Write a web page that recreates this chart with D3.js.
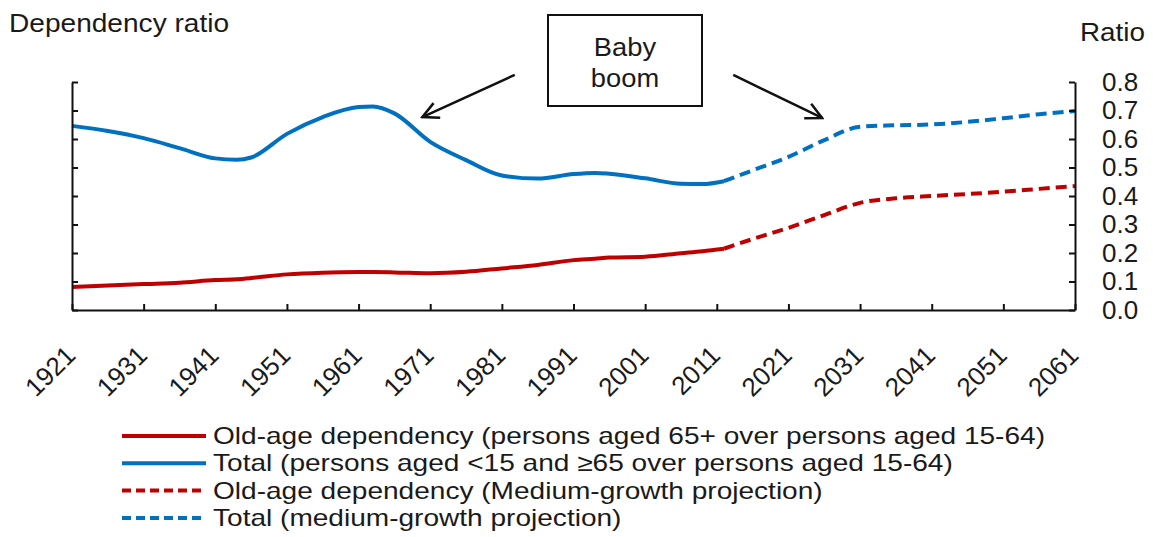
<!DOCTYPE html>
<html>
<head>
<meta charset="utf-8">
<script src="https://cdn.jsdelivr.net/npm/d3@7"></script>
<style>
  body { margin: 0; background: #fff; }
  text { font-family: "Liberation Sans", Arial, sans-serif; fill: #1a1a1a; }
</style>
</head>
<body>
<div id="root"></div>
<script>
// historical estimates
const histYears = [1921, 1926, 1931, 1936, 1941, 1944, 1946, 1951, 1956, 1961, 1963, 1966, 1971, 1976, 1981, 1986, 1991, 1994, 1996, 2001, 2006, 2009, 2012];
const histTotal = [0.646, 0.628, 0.603, 0.568, 0.532, 0.527, 0.535, 0.618, 0.677, 0.712, 0.714, 0.690, 0.590, 0.526, 0.472, 0.461, 0.477, 0.481, 0.478, 0.462, 0.443, 0.442, 0.452];
const histOld = [0.081, 0.086, 0.091, 0.096, 0.105, 0.108, 0.112, 0.125, 0.131, 0.133, 0.133, 0.132, 0.129, 0.134, 0.146, 0.158, 0.175, 0.180, 0.184, 0.187, 0.199, 0.206, 0.215];

// medium-growth projection
const projYears = [2012, 2016, 2021, 2026, 2031, 2036, 2041, 2046, 2051, 2056, 2061];
const projTotal = [0.452, 0.490, 0.537, 0.596, 0.643, 0.648, 0.651, 0.660, 0.673, 0.687, 0.698];
const projOld = [0.215, 0.249, 0.288, 0.333, 0.376, 0.392, 0.400, 0.407, 0.415, 0.425, 0.435];

const xTicks = [1921, 1931, 1941, 1951, 1961, 1971, 1981, 1991, 2001, 2011, 2021, 2031, 2041, 2051, 2061];
const yTicks = [0, 0.1, 0.2, 0.3, 0.4, 0.5, 0.6, 0.7, 0.8];

const legendLabels = [
  'Old-age dependency (persons aged 65+ over persons aged 15-64)',
  'Total (persons aged <15 and \u226565 over persons aged 15-64)',
  'Old-age dependency (Medium-growth projection)',
  'Total (medium-growth projection)'
];

const red = '#c00000', blue = '#0070c0';
const width = 1156, height = 537;

const svg = d3.select('#root').append('svg')
              .attr('width', width)
              .attr('height', height);

// the source picture is a bit wider than tall, so widen text to match
const widen = (sel, k) => sel.each(function () {
  const w = this.getComputedTextLength();
  d3.select(this).attr('textLength', w * k).attr('lengthAdjust', 'spacingAndGlyphs');
});

const x = d3.scaleLinear().domain([1921, 2061]).range([72, 1075]);
const y = d3.scaleLinear().domain([0, 0.8]).range([310, 82]);

const line = d3.line()
               .x(d => x(d[0]))
               .y(d => y(d[1]))
               .curve(d3.curveMonotoneX);

const series = [
  {yrs: histYears, vals: histOld, color: red, dash: null},
  {yrs: histYears, vals: histTotal, color: blue, dash: null},
  {yrs: projYears, vals: projOld, color: red, dash: '11,6'},
  {yrs: projYears, vals: projTotal, color: blue, dash: '11,6'}
];

svg.selectAll('path.series')
   .data(series).enter()
   .append('path')
   .attr('class', 'series')
   .attr('fill', 'none')
   .attr('stroke', d => d.color)
   .attr('stroke-width', 4)
   .attr('stroke-dasharray', d => d.dash)
   .attr('d', d => line(d.yrs.map((yr, i) => [yr, d.vals[i]])));

// axes, ticks pointing inward
const axStyle = g => {
  g.select('.domain').attr('stroke', '#111').attr('stroke-width', 2);
  g.selectAll('.tick line').attr('stroke', '#111').attr('stroke-width', 2);
};

svg.append('g')
   .attr('transform', `translate(${x(1921)},0)`)
   .call(d3.axisLeft(y).tickValues(yTicks).tickSize(-6).tickSizeOuter(0).tickFormat(''))
   .call(axStyle);

const yr = svg.append('g')
   .attr('transform', `translate(${x(2061)},0)`)
   .call(d3.axisRight(y).tickValues(yTicks).tickSize(-6).tickSizeOuter(0)
           .tickPadding(27).tickFormat(d3.format('.1f')))
   .call(axStyle);
yr.selectAll('text')
  .style('font-size', '26px')
  .style('font-family', '"Liberation Sans", Arial, sans-serif')
  .attr('fill', '#1a1a1a');

svg.append('g')
   .attr('transform', `translate(0,${y(0)})`)
   .call(d3.axisBottom(x).tickValues(xTicks).tickSize(-6).tickSizeOuter(0).tickFormat(''))
   .call(axStyle);

svg.selectAll('text.xlab')
   .data(xTicks).enter()
   .append('text')
   .attr('class', 'xlab')
   .attr('text-anchor', 'end')
   .attr('transform', d => `translate(${x(d) + 5},357) rotate(-45)`)
   .style('font-size', '26px')
   .text(d => d);

// titles
svg.append('text').attr('x', 9).attr('y', 32).style('font-size', '26px').text('Dependency ratio').call(widen, 1.08);
svg.append('text').attr('x', 1080).attr('y', 41).style('font-size', '26px').text('Ratio').call(widen, 1.07);

// baby boom callout
svg.append('rect')
   .attr('x', 548).attr('y', 15).attr('width', 154).attr('height', 91)
   .attr('fill', '#fff').attr('stroke', '#111').attr('stroke-width', 2);
svg.append('text').attr('x', 625).attr('y', 56).attr('text-anchor', 'middle').style('font-size', '26px').text('Baby').call(widen, 1.05);
svg.append('text').attr('x', 625).attr('y', 87).attr('text-anchor', 'middle').style('font-size', '26px').text('boom').call(widen, 1.05);

svg.append('defs').append('marker')
   .attr('id', 'head')
   .attr('viewBox', '0 0 20 20')
   .attr('refX', 18).attr('refY', 10)
   .attr('markerWidth', 20).attr('markerHeight', 20)
   .attr('markerUnits', 'userSpaceOnUse')
   .attr('orient', 'auto')
   .append('path')
   .attr('d', 'M2,2 L18,10 L2,18')
   .attr('fill', 'none')
   .attr('stroke', '#111')
   .attr('stroke-width', 2.5);

const arrows = [
  {from: [1982.8, 0.825], to: [1969.9, 0.677]},
  {from: [2013.3, 0.825], to: [2025.7, 0.674]}
];
svg.selectAll('line.arrow')
   .data(arrows).enter()
   .append('line')
   .attr('class', 'arrow')
   .attr('x1', d => x(d.from[0])).attr('y1', d => y(d.from[1]))
   .attr('x2', d => x(d.to[0])).attr('y2', d => y(d.to[1]))
   .attr('stroke', '#111')
   .attr('stroke-width', 2.5)
   .attr('marker-end', 'url(#head)');

// legend
const legend = svg.append('g').attr('transform', 'translate(122,444)');
const rows = legend.selectAll('g')
   .data(legendLabels).enter()
   .append('g')
   .attr('transform', (d, i) => `translate(0,${i * 27.3})`);
rows.append('line')
    .attr('x1', 0).attr('x2', 84)
    .attr('y1', -8).attr('y2', -8)
    .attr('stroke', (d, i) => series[i].color)
    .attr('stroke-width', 4)
    .attr('stroke-dasharray', (d, i) => series[i].dash ? '9,5' : null);
const legText = rows.append('text')
    .attr('x', 91)
    .style('font-size', '24px')
    .text(d => d);
// stretch all rows by the factor that makes the first row as wide as in the source
const k = 832 / legText.node().getComputedTextLength();
legText.call(widen, k);
</script>
</body>
</html>
